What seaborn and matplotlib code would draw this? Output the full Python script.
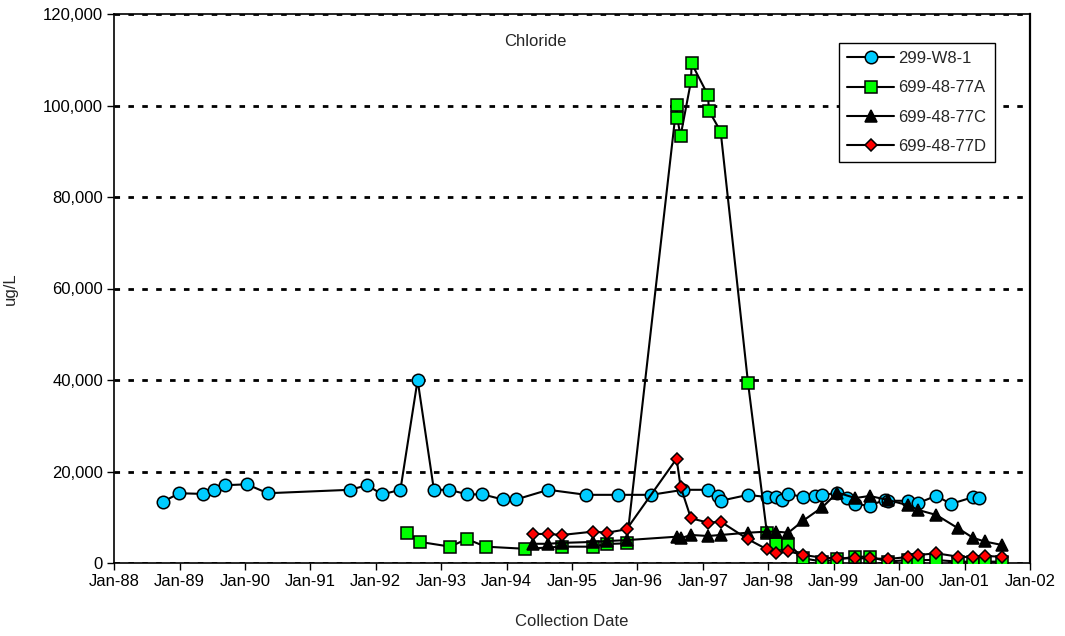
import matplotlib
matplotlib.use("Agg")
import matplotlib.pyplot as plt
import matplotlib.dates as mdates
from matplotlib.ticker import FuncFormatter, MultipleLocator
import pandas as pd
import seaborn as sns

# ---------------- data ----------------
w8_dates = ["1988-10-01", "1988-12-30", "1989-05-12", "1989-07-12", "1989-09-12", "1990-01-12",
            "1990-05-08", "1991-08-11", "1991-11-14", "1992-02-06", "1992-05-18", "1992-08-22",
            "1992-11-21", "1993-02-14", "1993-05-27", "1993-08-19", "1993-12-10", "1994-02-24",
            "1994-08-22", "1995-03-21", "1995-09-16", "1996-03-17", "1996-09-13", "1997-01-30",
            "1997-03-26", "1997-04-10", "1997-09-10", "1997-12-24", "1998-02-14", "1998-03-18",
            "1998-04-23", "1998-07-16", "1998-09-20", "1998-10-26", "1999-01-19", "1999-03-18",
            "1999-05-01", "1999-07-20", "1999-10-12", "1999-10-30", "2000-02-21", "2000-04-16",
            "2000-07-27", "2000-10-16", "2001-02-17", "2001-03-22"]
w8_vals = [13400, 15250, 15100, 15900, 17000, 17200,
           15250, 16000, 17000, 15000, 16000, 40000,
           16000, 16000, 15000, 15000, 13900, 13900,
           16000, 14900, 14900, 14900, 16000, 16000,
           14700, 13600, 14900, 14400, 14400, 13800,
           15100, 14400, 14700, 14900, 15250, 14150,
           12900, 12500, 13800, 13600, 13600, 13100,
           14700, 12900, 14400, 14200]

a_dates = ["1992-06-24", "1992-09-05", "1993-02-21", "1993-05-23", "1993-09-06", "1994-04-16",
           "1994-11-06", "1995-04-27", "1995-07-16", "1995-11-02", "1996-08-07", "1996-08-11",
           "1996-08-29", "1996-10-26", "1996-10-30", "1997-01-30", "1997-02-03", "1997-04-10",
           "1997-09-10", "1997-12-24", "1998-02-14", "1998-04-23", "1998-07-16", "1998-10-30",
           "1999-01-22", "1999-05-01", "1999-07-20", "1999-10-30", "2000-02-21", "2000-04-16",
           "2000-07-27", "2000-11-25", "2001-02-17", "2001-04-23", "2001-07-27"]
a_vals = [6630, 4600, 3570, 5250, 3570, 3100,
          3570, 3570, 4160, 4300, 100200, 97200,
          93300, 105250, 109200, 102200, 98900, 94300,
          39300, 6630, 4160, 4160, 1020, 300,
          800, 1380, 1380, 300, 650, 650,
          650, 300, 300, 300, 300]

c_dates = ["1994-05-30", "1994-08-18", "1994-11-06", "1995-04-27", "1995-07-16", "1995-11-02",
           "1996-08-07", "1996-08-29", "1996-10-26", "1997-01-30", "1997-04-10", "1997-09-10",
           "1997-12-24", "1998-02-14", "1998-04-23", "1998-07-16", "1998-10-30", "1999-01-22",
           "1999-05-01", "1999-07-20", "1999-10-30", "2000-02-21", "2000-04-16", "2000-07-27",
           "2000-11-25", "2001-02-17", "2001-04-23", "2001-07-27"]
c_vals = [4200, 4200, 4400, 4600, 4800, 5000,
          5750, 5400, 6130, 5900, 6130, 6630,
          6850, 6850, 6630, 9300, 12200, 15400,
          14200, 14650, 13800, 12600, 11600, 10500,
          7600, 5500, 4700, 3950]

d_dates = ["1994-05-30", "1994-08-18", "1994-11-06", "1995-04-27", "1995-07-16", "1995-11-02",
           "1996-08-07", "1996-08-29", "1996-10-26", "1997-01-30", "1997-04-10", "1997-09-10",
           "1997-12-24", "1998-02-14", "1998-04-23", "1998-07-16", "1998-10-30", "1999-01-22",
           "1999-05-01", "1999-07-20", "1999-10-30", "2000-02-21", "2000-04-16", "2000-07-27",
           "2000-11-25", "2001-02-17", "2001-04-23", "2001-07-27"]
d_vals = [6350, 6350, 6130, 6850, 6630, 7370,
          22800, 16700, 9780, 8820, 9040, 5180,
          3000, 2120, 2560, 1750, 1160, 1020,
          1020, 1020, 875, 1310, 1750, 2120,
          1380, 1250, 1530, 1380]

series_names = ["299-W8-1", "699-48-77A", "699-48-77C", "699-48-77D"]
title_text = "Chloride"
x_label = "Collection Date"
y_label = "ug/L"

# ---------------- style ----------------
sns.set_style("ticks")
plt.rcParams["font.family"] = ["Liberation Sans", "DejaVu Sans"]
plt.rcParams["font.size"] = 12

fig = plt.figure(figsize=(10.65, 6.36), dpi=100)
L, R, T, B = 114, 1030, 14, 563
ax = fig.add_axes([L / 1065, 1 - B / 636, (R - L) / 1065, (B - T) / 636])

styles = [
    dict(marker="o", markersize=9, markerfacecolor="#00CCFF"),
    dict(marker="s", markersize=8, markerfacecolor="#00FF00"),
    dict(marker="^", markersize=9, markerfacecolor="black"),
    dict(marker="D", markersize=6, markerfacecolor="#FF0000"),
]
all_dates = [w8_dates, a_dates, c_dates, d_dates]
all_vals = [w8_vals, a_vals, c_vals, d_vals]

for name, dts, vals, st in zip(series_names, all_dates, all_vals, styles):
    df = pd.DataFrame({"date": pd.to_datetime(dts), "value": vals})
    sns.lineplot(data=df, x="date", y="value", ax=ax, estimator=None, sort=False,
                 color="black", linewidth=1.5, markeredgecolor="black",
                 markeredgewidth=1.1, label=name, zorder=3, **st)

# axes limits and ticks
ax.set_xlim(pd.Timestamp("1988-01-01"), pd.Timestamp("2002-01-01"))
ax.set_ylim(0, 120000)
ax.xaxis.set_major_locator(mdates.YearLocator())
ax.xaxis.set_major_formatter(mdates.DateFormatter("%b-%y"))
ax.yaxis.set_major_locator(MultipleLocator(20000))
ax.yaxis.set_major_formatter(FuncFormatter(lambda v, p: f"{int(v):,}"))
ax.tick_params(axis="both", direction="out", length=5, width=1, color="black",
               labelsize=12, labelcolor="black", pad=3)

ax.grid(axis="y", color="black", linestyle=(0, (2, 3)), linewidth=2.0, zorder=1)
ax.set_axisbelow(True)
for sp in ax.spines.values():
    sp.set_visible(True)
    sp.set_color("black")
    sp.set_linewidth(1.2)
ax.spines["right"].set_linewidth(1.6)

ax.set_xlabel(x_label, fontsize=12, labelpad=18)
ax.set_ylabel(y_label, fontsize=12, labelpad=18)
ax.text(0.46, 0.949, title_text, transform=ax.transAxes, ha="center", va="center", fontsize=12)

leg = ax.legend(loc="upper left", bbox_to_anchor=((839 - L) / (R - L), (B - 43) / (B - T)),
                frameon=True, fancybox=False, shadow=False, fontsize=12,
                handlelength=2.8, handletextpad=0.25, labelspacing=0.85,
                borderpad=0.5, borderaxespad=0)
leg.get_frame().set_edgecolor("black")
leg.get_frame().set_linewidth(1.0)
leg.get_frame().set_facecolor("white")
leg.get_frame().set_alpha(1)

fig.savefig("out.png", dpi=100, facecolor="white")
